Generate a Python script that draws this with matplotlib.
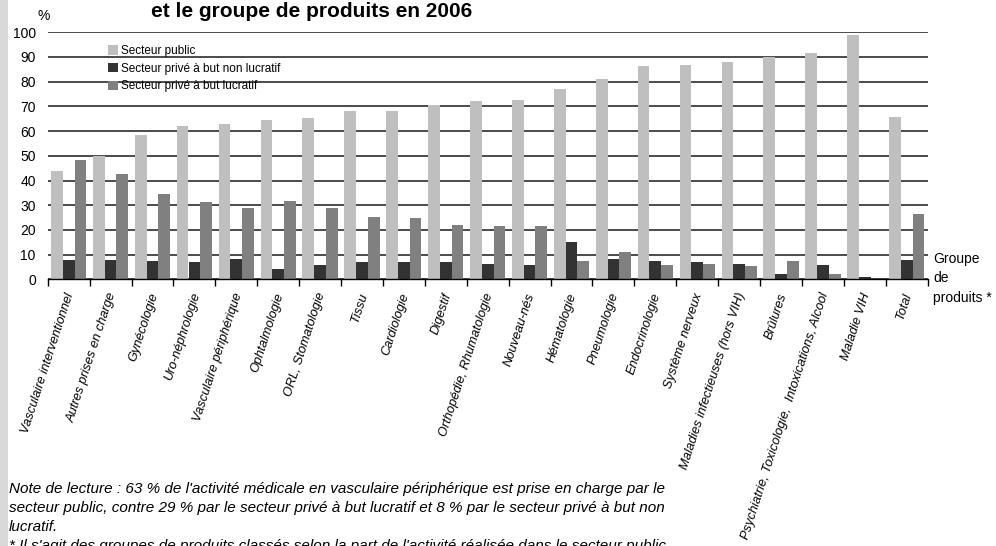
import numpy as np
import matplotlib
matplotlib.use("Agg")
import matplotlib.pyplot as plt
from matplotlib.patches import Rectangle

plt.rcParams['font.family'] = ['Liberation Sans', 'DejaVu Sans']

categories = [
    "Vasculaire interventionnel", "Autres prises en charge", "Gynécologie",
    "Uro-néphrologie", "Vasculaire périphérique", "Ophtalmologie",
    "ORL, Stomatologie", "Tissu", "Cardiologie", "Digestif",
    "Orthopédie, Rhumatologie", "Nouveau-nés", "Hématologie", "Pneumologie",
    "Endocrinologie", "Système nerveux", "Maladies infectieuses (hors VIH)",
    "Brûlures", "Psychiatrie, Toxicologie,  Intoxications, Alcool",
    "Maladie VIH", "Total",
]
public = [44, 50, 58.5, 62, 63, 64.5, 65.5, 68, 68, 70.5, 72, 72.5, 77, 81,
          86.3, 86.7, 88, 90, 91.6, 99, 65.8]
prive_non_lucratif = [8, 8, 7.6, 7, 8.3, 4.3, 5.9, 7, 7, 7, 6.2, 5.9, 15.1,
                      8.2, 7.4, 7, 6.2, 2.1, 5.9, 1, 7.8]
prive_lucratif = [48.3, 42.6, 34.5, 31.3, 29, 31.7, 29, 25.2, 24.8, 22,
                  21.6, 21.6, 7.4, 11.1, 5.8, 6.2, 5.4, 7.4, 2.1, 0, 26.4]
series_names = ["Secteur public", "Secteur privé à but non lucratif",
                "Secteur privé à but lucratif"]
yticks = [0, 10, 20, 30, 40, 50, 60, 70, 80, 90, 100]

colors = ["#bfbfbf", "#333333", "#808080"]

W, H = 996, 546
fig = plt.figure(figsize=(W / 100, H / 100), dpi=100)
fig.patches.append(Rectangle((0, 0), 8 / W, 1, transform=fig.transFigure,
                             facecolor="#d9d9d9", edgecolor="none", zorder=0))

ax = fig.add_axes([47.7 / W, 1 - 279.3 / H, 880 / W, 247 / H])
ax.set_facecolor("none")

x = np.arange(len(categories))
bw = 0.28
handles = []
for i, (vals, col) in enumerate(zip([public, prive_non_lucratif, prive_lucratif], colors)):
    b = ax.bar(x + (i - 1) * bw, vals, width=bw, color=col, edgecolor="none",
               zorder=3, label=series_names[i])
    handles.append(b)

ax.set_xlim(-0.5, len(categories) - 0.5)
ax.set_ylim(0, 100)
ax.set_yticks(yticks)
ax.set_yticklabels([str(v) for v in yticks], fontsize=10)
ax.tick_params(axis="y", length=0, pad=8.6)
ax.yaxis.grid(True, color="#1a1a1a", linewidth=1.1, zorder=1)
ax.set_axisbelow(True)

for s in ["left", "right", "top"]:
    ax.spines[s].set_visible(False)
ax.spines["bottom"].set_color("black")
ax.spines["bottom"].set_linewidth(1.0)
ax.spines["bottom"].set_zorder(4)

# category labels at centers, tick marks at boundaries
ax.set_xticks(x + 0.05)
ax.set_xticklabels(categories, rotation=72, ha="right", va="center",
                   rotation_mode="anchor", fontsize=9.3, style="italic")
ax.tick_params(axis="x", which="major", length=0, pad=10)
ax.set_xticks(np.arange(-0.5, len(categories), 1.0), minor=True)
ax.tick_params(axis="x", which="minor", length=5, width=1.0, color="black",
               direction="out")

ax.legend(handles=handles, loc="upper left", frameon=False, fontsize=8.5,
          bbox_to_anchor=(108 / W, 1 - 45 / H), bbox_transform=fig.transFigure,
          borderpad=0, handlelength=0.85, handleheight=0.85,
          handletextpad=0.25, labelspacing=0.48, borderaxespad=0)

# title (second line visible)
fig.text(312 / W, 1 - 17 / H, "et le groupe de produits en 2006",
         ha="center", va="baseline", fontsize=15, fontweight="bold")
fig.text(37 / W, 1 - 20 / H, "%", ha="left", va="baseline", fontsize=10)

fig.text(933 / W, 1 - 252 / H, "Groupe\nde\nproduits *", ha="left", va="top",
         fontsize=10, linespacing=1.5)

note = ("Note de lecture : 63 % de l'activité médicale en vasculaire périphérique est prise en charge par le\n"
        "secteur public, contre 29 % par le secteur privé à but lucratif et 8 % par le secteur privé à but non\n"
        "lucratif.\n"
        "* Il s'agit des groupes de produits classés selon la part de l'activité réalisée dans le secteur public.")
fig.text(9 / W, 1 - 482 / H, note, ha="left", va="top", fontsize=11,
         style="italic", linespacing=1.45)

fig.savefig("out.png", dpi=100)
